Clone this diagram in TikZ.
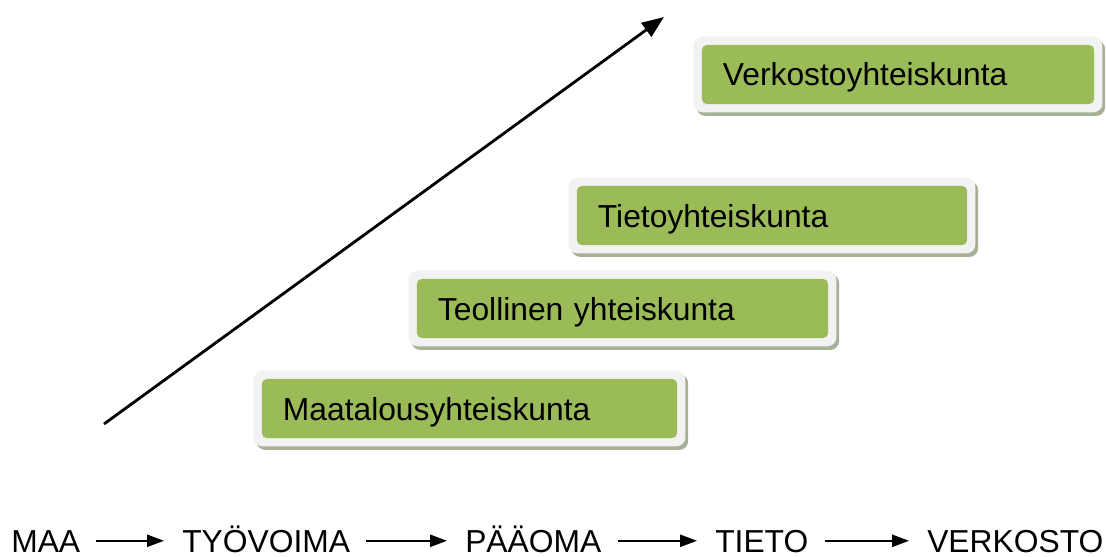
\documentclass[tikz,border=0pt]{standalone}
\usepackage{fontspec}
\setmainfont{Liberation Sans}
\usetikzlibrary{arrows.meta,positioning,fit,shadows}
\pgfdeclarelayer{background}
\pgfsetlayers{background,main}
\definecolor{stagegreen}{HTML}{9BBB59}
\definecolor{framegray}{HTML}{F2F2F2}
\definecolor{frameshade}{HTML}{A7B196}
\newcommand{\stagefont}{\fontsize{22.6}{27}\selectfont}
\tikzstyle{line} = [draw, line width=2pt, -{Triangle[length=0.55cm,width=0.42cm]}]
\tikzstyle{flow} = [draw, line width=1.5pt, -{Triangle[length=0.42cm,width=0.3cm]}, shorten <=0.4cm, shorten >=0.45cm]
\newcommand{\stageframe}[1]{%
  \begin{pgfonlayer}{background}
    \node[frame, fit=(#1)] (#1f) {};
  \end{pgfonlayer}}

\begin{document}
\begin{tikzpicture}[x=0.025cm, y=-0.025cm]
\tikzset{stage/.style={rectangle, rounded corners=0.12cm, fill=stagegreen, minimum height=1.475cm, inner xsep=0.525cm, inner ysep=0pt, text height=0.575cm, text depth=0cm, align=left, font=\stagefont}}
\tikzset{frame/.style={rectangle, rounded corners=0.22cm, fill=framegray, inner sep=0.2cm, drop shadow={shadow xshift=0.07cm, shadow yshift=-0.09cm, fill=frameshade, opacity=1}}}
\tikzset{word/.style={inner sep=0pt, anchor=base west, text height=0.56cm, text depth=0cm, font=\stagefont}}
\useasboundingbox (0,0) rectangle (1106,557);

% stages
\node [stage, text width=9.325cm] (maatalous) at (469.5,408.5) {Maatalousyhteiskunta};
\node [stage, text width=9.225cm] (teollinen) at (622.5,308.5) {Teollinen yhteiskunta};
\node [stage, text width=8.7cm]   (tieto)     at (772,215.5)   {Tietoyhteiskunta};
\node [stage, text width=8.75cm]  (verkosto)  at (898,74.5)    {Verkostoyhteiskunta};
\stageframe{maatalous}
\stageframe{teollinen}
\stageframe{tieto}
\stageframe{verkosto}

% rising arrow
\coordinate (low) at (104,424);
\coordinate (high) at (664,17);
\path [line] (low) -- (high);

% resources
\node [word] (maa)  at (11,552)  {MAA};
\node [word] (tyo)  at (182,552) {TYÖVOIMA};
\node [word] (paa)  at (465,552) {PÄÄOMA};
\node [word] (tie)  at (715,552) {TIETO};
\node [word] (verk) at (927,552) {VERKOSTO};
\path [flow] (maa) -- (tyo);
\path [flow] (tyo) -- (paa);
\path [flow] (paa) -- (tie);
\path [flow] (tie) -- (verk);
\end{tikzpicture}
\end{document}
